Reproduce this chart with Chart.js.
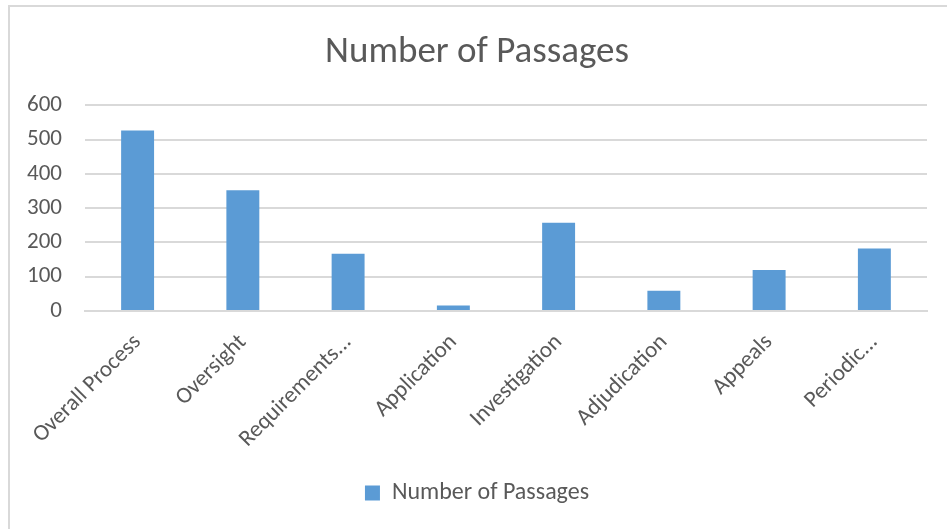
<!DOCTYPE html>
<html>
<head>
<meta charset="utf-8">
<script src="https://cdn.jsdelivr.net/npm/chart.js@4.4.1/dist/chart.umd.min.js"></script>
<style>
  html, body { margin: 0; padding: 0; background: #fff; overflow: hidden; }
  .frame {
    position: absolute; left: 8px; top: 5px; width: 939px; height: 524px;
    border-left: 2px solid #d9d9d9; border-top: 2px solid #d9d9d9;
  }
  .frame canvas { display: block; }
</style>
</head>
<body>
<div class="frame"><canvas id="passagesChart" width="937" height="522"></canvas></div>
<script>
  // categories and counts
  const categories = ['Overall Process', 'Oversight', 'Requirements...', 'Application',
                      'Investigation', 'Adjudication', 'Appeals', 'Periodic...'];
  const passages = [527, 352, 167, 16, 257, 59, 119, 182];
  const yTicks = [0, 100, 200, 300, 400, 500, 600];

  const textColor = '#595959';
  const gridColor = '#d9d9d9';
  const barColor = '#5b9bd5';
  const font = "Carlito, 'Open Sans', sans-serif";

  const ctx = document.getElementById('passagesChart').getContext('2d');

  new Chart(ctx, {
    type: 'bar',
    data: {
      labels: categories,
      datasets: [{
        label: 'Number of Passages',
        data: passages,
        backgroundColor: barColor,
        borderWidth: 0,
        categoryPercentage: 1,
        barPercentage: 0.313
      }]
    },
    options: {
      responsive: false,
      animation: false,
      layout: { padding: { top: 0, right: 20, bottom: 14, left: 17 } },
      plugins: {
        title: {
          display: true,
          text: 'Number of Passages',
          color: textColor,
          font: { family: font, size: 37, weight: 'normal' },
          padding: { top: 24, bottom: 30 }
        },
        legend: {
          position: 'bottom',
          labels: {
            color: textColor,
            font: { family: font, size: 24 },
            boxWidth: 15,
            boxHeight: 15,
            padding: 10
          }
        },
        tooltip: { enabled: false }
      },
      scales: {
        y: {
          min: 0,
          max: 600,
          afterBuildTicks: function(axis) {
            axis.ticks = yTicks.map(v => ({ value: v }));
          },
          afterFit: function(axis) {
            // chart.js counts the tick padding twice; keep it once
            axis.width -= 23;
          },
          ticks: {
            color: textColor,
            font: { family: font, size: 23 },
            padding: 23
          },
          grid: { color: gridColor, lineWidth: 2, drawTicks: false },
          border: { display: false }
        },
        x: {
          afterFit: function(axis) {
            // slanted labels may hang past the plot edges, like in Excel
            axis.paddingLeft = 0;
            axis.paddingRight = 0;
            axis.height += 8;
          },
          ticks: {
            color: textColor,
            font: { family: font, size: 23 },
            minRotation: 45,
            maxRotation: 45,
            padding: 10
          },
          grid: { display: false },
          border: { color: gridColor, width: 2 }
        }
      }
    }
  });
</script>
</body>
</html>
